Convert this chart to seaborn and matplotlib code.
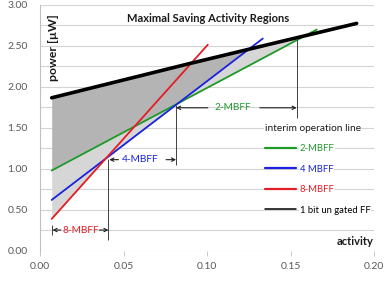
import numpy as np
import pandas as pd
import matplotlib
matplotlib.use("Agg")
import matplotlib.pyplot as plt
from matplotlib.lines import Line2D
import seaborn as sns

# ---------------- data ----------------
black_x = [0.007, 0.0897, 0.1435, 0.1896]
black_y = [1.866, 2.285, 2.55, 2.775]
green_x = [0.007, 0.1657]
green_y = [0.977, 2.70]
blue_x = [0.007, 0.1334]
blue_y = [0.618, 2.59]
red_x = [0.007, 0.1005]
red_y = [0.386, 2.515]

series_names = ["2-MBFF", "4 MBFF", "8-MBFF", "1 bit un gated FF"]
series_colors = ["#1f9a2a", "#1a22dd", "#e51d25", "#000000"]

xticks = [0.00, 0.05, 0.10, 0.15, 0.20]
xtick_labels = ["0.00", "0.05", "0.10", "0.15", "0.20"]
yticks = [0.0, 0.5, 1.0, 1.5, 2.0, 2.5, 3.0]
ytick_labels = ["0.00", "0.50", "1.00", "1.50", "2.00", "2.50", "3.00"]

# region boundaries for annotations
x_8 = 0.007
x_84 = 0.041
x_42 = 0.0815
x_2b = 0.1537

# ---------------- figure ----------------
sns.set_theme(style="white")
plt.rcParams["font.family"] = ["Lato", "DejaVu Sans"]

fig = plt.figure(figsize=(3.84, 2.82), dpi=100)
ax = fig.add_axes([40 / 384, 1 - 250.5 / 282, 334 / 384, 245.5 / 282])

df = pd.concat([
    pd.DataFrame({"activity": green_x, "power": green_y, "series": series_names[0]}),
    pd.DataFrame({"activity": blue_x, "power": blue_y, "series": series_names[1]}),
    pd.DataFrame({"activity": red_x, "power": red_y, "series": series_names[2]}),
    pd.DataFrame({"activity": black_x, "power": black_y, "series": series_names[3]}),
])

# shading
xs = np.linspace(green_x[0], x_2b, 600)
bk = np.interp(xs, black_x, black_y)
gi = np.interp(xs, green_x, green_y, right=np.inf)
bi = np.interp(xs, blue_x, blue_y, right=np.inf)
ri = np.interp(xs, red_x, red_y, right=np.inf)
mid = np.minimum(np.maximum(gi, bi), bk)
low = np.minimum(np.minimum(np.minimum(gi, bi), ri), bk)
ax.fill_between(xs, mid, bk, color="#b4b4b4", lw=0, zorder=1)
ax.fill_between(xs, low, mid, color="#d6d6d6", lw=0, zorder=1)

for name, col in zip(series_names, series_colors):
    sub = df[df["series"] == name]
    sns.lineplot(data=sub, x="activity", y="power", color=col,
                 lw=2.6 if name.startswith("1 bit") else 1.3,
                 ax=ax, zorder=3, legend=False, estimator=None, sort=False)

ax.set_xlim(0, 0.2)
ax.set_ylim(0, 3)
ax.set_xticks(xticks)
ax.set_xticklabels(xtick_labels)
ax.set_yticks(yticks)
ax.set_yticklabels(ytick_labels)
ax.set_yticks(np.arange(0.25, 3.0, 0.5), minor=True)
ax.grid(axis="y", which="both", color="#d4d4d4", lw=0.8, zorder=0)
ax.set_axisbelow(True)
ax.set_xlabel("")
ax.set_ylabel("")
for s in ["top", "right", "bottom"]:
    ax.spines[s].set_visible(False)
ax.spines["left"].set_color("#bfbfbf")
ax.spines["left"].set_linewidth(0.8)
ax.tick_params(axis="y", which="both", length=0, pad=9, labelsize=7.5, labelcolor="#595959")
ax.tick_params(axis="x", length=3.5, width=0.6, color="#bfbfbf", direction="out",
               pad=5, labelsize=7.5, labelcolor="#595959", bottom=True)

# texts
ax.text(0.503, 0.947, "Maximal Saving Activity Regions", transform=ax.transAxes,
        ha="center", va="center", fontsize=8, fontweight="bold", color="#1a1a1a")
ax.text(0.04, 0.825, "power [\u00b5W]", transform=ax.transAxes, rotation=90,
        ha="center", va="center", fontsize=8.8, fontweight="bold", color="#1a1a1a")
ax.text(1.0, 0.035, "activity", transform=ax.transAxes, ha="right", va="center",
        fontsize=8, fontweight="bold", color="#1a1a1a")

# annotation lines
vcol = "#404040"
ax.vlines(x_84, 0.13, 1.12, color=vcol, lw=0.7, zorder=4)
ax.vlines(x_8, 0.19, 0.31, color=vcol, lw=0.7, zorder=4)
ax.vlines(x_42, 1.04, 1.78, color=vcol, lw=0.7, zorder=4)
ax.vlines(x_2b, 1.62, 2.59, color=vcol, lw=0.7, zorder=4)


def arrow(x_tail, x_head, y):
    ax.annotate("", xy=(x_head, y), xytext=(x_tail, y),
                arrowprops=dict(arrowstyle="->", lw=0.8, color="#202020",
                                shrinkA=0, shrinkB=0, mutation_scale=6), zorder=5)


y8, y4, y2 = 0.25, 1.11, 1.744
arrow(0.0125, x_8 + 0.0005, y8)
arrow(0.0355, x_84, y8)
ax.text(0.0242, y8, "8-MBFF", color=series_colors[2], fontsize=7.3, ha="center", va="center")
arrow(0.047, x_84 + 0.0005, y4)
arrow(0.0755, x_42, y4)
ax.text(0.0598, y4, "4-MBFF", color=series_colors[1], fontsize=7.3, ha="center", va="center")
arrow(0.1005, x_42, y2)
arrow(0.1316, x_2b, y2)
ax.text(0.1157, y2, "2-MBFF", color=series_colors[0], fontsize=7.3, ha="center", va="center")

# legend
handles = [Line2D([0], [0], color=c, lw=(1.6 if i < 3 else 1.1))
           for i, c in enumerate(series_colors)]
leg = ax.legend(handles, series_names, title="interim operation line",
                loc="upper left", bbox_to_anchor=(0.1345, 1.55),
                bbox_transform=ax.transData, frameon=False, fontsize=6.8,
                title_fontsize=7.3, handlelength=3.3, handletextpad=0.4,
                labelspacing=1.22, borderpad=0, borderaxespad=0,
                alignment="left", labelcolor=series_colors)
leg.set_zorder(6)
for t in leg.get_texts() + [leg.get_title()]:
    t.set_bbox(dict(facecolor="white", edgecolor="none", pad=0.6))
leg.get_title().set_color("#1a1a1a")

fig.savefig("out.png", dpi=100)
